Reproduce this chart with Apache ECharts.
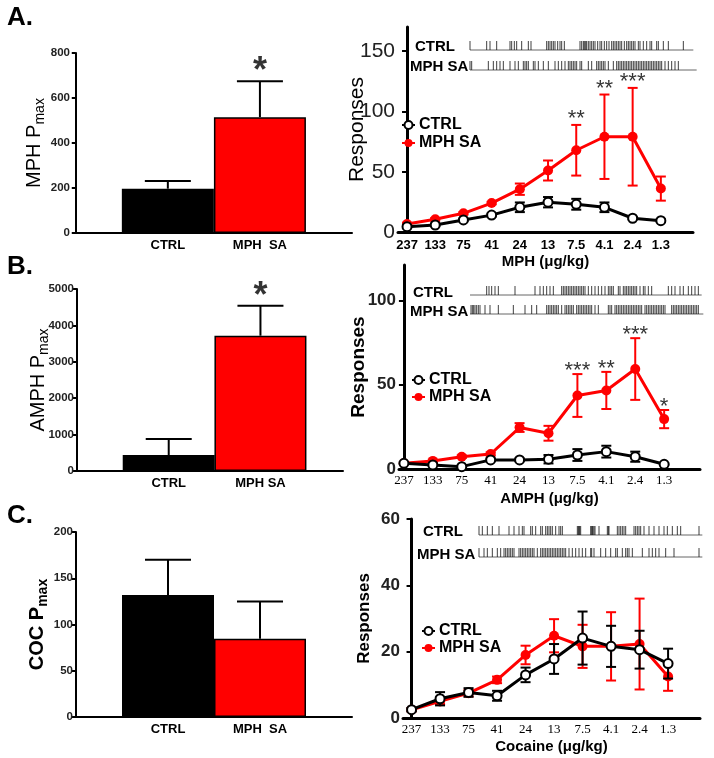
<!DOCTYPE html>
<html><head><meta charset="utf-8">
<script src="https://cdn.jsdelivr.net/npm/echarts@6/dist/echarts.min.js"></script>
<style>html,body{margin:0;padding:0;background:#fff}#c{width:714px;height:758px}</style>
</head><body><div id="c"></div><script>
// ---------------- DATA ----------------
const doses = ['237','133','75','41','24','13','7.5','4.1','2.4','1.3'];
const seriesNames = ['CTRL','MPH SA'];

// Bar panels (Pmax): [CTRL, MPH SA]
const barCatsA = ['CTRL','MPH  SA'];
const pmaxA = [197, 515];
const pmaxSemA = [34, 160];
const pmaxSigA = ['', '*'];

const barCatsB = ['CTRL','MPH SA'];
const pmaxB = [440, 3717];
const pmaxSemB = [440, 823];
const pmaxSigB = ['', '*'];

const barCatsC = ['CTRL','MPH  SA'];
const pmaxC = [132, 84.5];
const pmaxSemC = [38, 40.5];
const pmaxSigC = ['', ''];

// Dose-response panels
const mphCtrl    = [4.4, 5.8, 10, 14, 20.5, 24.7, 23, 20.5, 11.4, 9.4];
const mphCtrlSem = [0.8, 1, 1, 1.2, 4, 4.3, 4.5, 4, 1, 1];
const mphSa      = [6.7, 10.5, 15.5, 24, 35.5, 51, 67.8, 79, 79, 36];
const mphSaSem   = [1, 1, 1, 1, 4.7, 8.3, 21, 35, 40.5, 10];
const mphSigIdx  = [6, 7, 8];
const mphSigTxt  = ['**', '**', '***'];

const amphCtrl    = [3.4, 2.4, 1.4, 5.4, 5.4, 5.8, 8.3, 10.3, 7.3, 2.8];
const amphCtrlSem = [0.5, 0.5, 0.5, 0.8, 0.8, 2.5, 3.5, 3.5, 3, 0.5];
const amphSa      = [3.4, 4.8, 7.3, 8.9, 24.6, 21.2, 43.6, 46.6, 59.3, 29.6];
const amphSaSem   = [0.5, 0.8, 0.8, 1, 2.6, 4.4, 12.7, 11, 18.3, 5.4];
const amphSigIdx  = [6, 7, 8, 9];
const amphSigTxt  = ['***', '**', '***', '*'];

const cocCtrl    = [2.5, 5.8, 7.7, 6.7, 13, 17.8, 24.1, 21.6, 20.6, 16.4];
const cocCtrlSem = [0.5, 2, 1.3, 1.5, 2.2, 4.5, 8, 6.2, 5.7, 4.5];
const cocSa      = [2.5, 5, 7.5, 11.5, 19, 24.8, 21.6, 21.6, 22.3, 12.5];
const cocSaSem   = [0.5, 0.8, 1, 1, 2.8, 5, 6.5, 10.3, 13.7, 4.3];
const cocSigIdx  = [];
const cocSigTxt  = [];

// Event rasters (response times, arbitrary session units)
const rasterMphCtrl = [0,50,60,80,120,125,133,140,155,175,183,230,235,240,245,250,255,263,270,275,283,330,335,340,343,347,350,355,360,365,370,375,383,390,395,403,410,417,425,430,435,440,445,450,455,463,470,475,480,485,490,495,505,510,520,530,540,545,560,565,580,595,640];
const rasterMphSa = [0,5,55,70,80,90,100,120,135,145,160,165,170,175,190,195,205,220,235,255,265,275,285,295,300,305,310,315,320,330,335,355,365,380,385,390,395,400,405,415,430,440,445,450,455,460,465,470,475,480,485,490,495,500,505,510,515,520,525,530,535,540,545,550,555,560,565,570,575,585,595,605,615,625];
const rasterAmphCtrl = [50,57,65,75,85,135,195,210,220,230,240,250,275,280,285,290,295,300,305,310,315,320,325,330,335,340,345,355,365,375,385,395,405,415,420,425,430,445,450,460,465,470,475,480,485,490,495,500,510,520,525,535,545,595,605,615,630,640,655,665,675,685];
const rasterAmphSa = [3,7,11,15,20,25,30,45,60,85,130,165,185,200,230,235,240,245,250,255,260,265,275,285,290,295,300,305,310,320,325,330,335,340,345,350,355,360,365,375,385,415,420,425,435,440,445,450,455,460,465,470,475,480,485,490,495,500,505,510,515,525,530,535,540,545,550,555,560,565,570,575,580,585,605,610,615,620,625,630,635,640,645,650,655,660,665,670,675,680,685];
const rasterCocCtrl = [0,10,25,40,60,90,105,120,130,135,155,160,170,185,190,200,205,210,215,220,230,240,245,250,295,298,300,302,305,335,338,340,342,345,348,360,385,388,390,415,420,425,430,435,440,465,470,475,480,485,495,510,525,540,555,565,580,595,605,660];
const rasterCocSa = [0,15,25,40,55,65,75,80,85,90,95,100,105,120,125,130,135,140,145,150,155,160,165,175,185,190,195,200,205,210,215,220,225,230,235,240,245,250,255,260,270,280,290,300,310,320,335,338,345,365,380,395,410,415,430,440,445,450,460,490,510,520,530,540,560,585,660];
const rasterLabels = ['CTRL', 'MPH SA'];
const panelLetters = ['A.', 'B.', 'C.'];

// ---------------- BUILD ----------------
const FONT = '"Liberation Sans", Arial, sans-serif';
const SERIF = '"Liberation Serif", "Times New Roman", serif';
const RED = '#ff0000';
const grids = [], xAxes = [], yAxes = [], series = [], graphics = [], legends = [];

function barPanel(idx, L, cats, vals, sems, sigs) {
  grids[idx] = {left: L.left, top: L.top, width: L.width, height: L.height, outerBoundsMode: 'none'};
  xAxes[idx] = {
    gridIndex: idx, type: 'value', min: L.xmin, max: L.xmax,
    axisLine: {show: true, onZero: false, lineStyle: {color: '#000', width: 2}},
    axisTick: {show: false}, splitLine: {show: false},
    axisLabel: {customValues: [1, 2], formatter: v => cats[Math.round(v) - 1] || '',
      color: '#000', fontFamily: FONT, fontWeight: 'bold', fontSize: 13, margin: 6}
  };
  yAxes[idx] = {
    gridIndex: idx, type: 'value', min: 0, max: L.ymax, interval: L.yint,
    axisLine: {show: true, lineStyle: {color: '#000', width: 2}},
    axisTick: {show: true, length: 4, lineStyle: {color: '#000', width: 2}},
    splitLine: {show: false},
    axisLabel: {formatter: v => String(v), color: '#222', fontFamily: FONT, fontWeight: 'bold', fontSize: 11.5, margin: 3},
    name: '{m|' + L.yname + '}{s|max}', nameLocation: 'middle', nameGap: L.nameGap, nameRotate: 90,
    nameMoveOverlap: false,
    nameTextStyle: {rich: {
      m: {fontFamily: FONT, fontSize: 20, fontWeight: L.nameWeight, color: '#000', lineHeight: 26, verticalAlign: 'middle'},
      s: {fontFamily: FONT, fontSize: 14, fontWeight: L.nameWeight, color: '#000', lineHeight: 26, verticalAlign: 'bottom'}
    }}
  };
  series.push({
    type: 'bar', xAxisIndex: idx, yAxisIndex: idx, barWidth: L.barW, z: 2, silent: true,
    data: vals.map((v, i) => ({value: [i + 1, v], itemStyle: {color: i ? RED : '#000'}})),
    itemStyle: {borderColor: '#000', borderWidth: 1.5}
  });
  series.push({
    type: 'custom', xAxisIndex: idx, yAxisIndex: idx, z: 3, silent: true,
    data: vals.map((v, i) => [i + 1, v, sems[i]]),
    encode: {x: 0, y: 1},
    renderItem: (p, api) => {
      const x = api.value(0), v = api.value(1), e = api.value(2);
      const a = api.coord([x, v]), b = api.coord([x, v + e]);
      const hw = 23;
      return {type: 'group', children: [
        {type: 'line', shape: {x1: a[0], y1: a[1], x2: b[0], y2: b[1]}, style: {stroke: '#000', lineWidth: 2}},
        {type: 'line', shape: {x1: b[0] - hw, y1: b[1], x2: b[0] + hw, y2: b[1]}, style: {stroke: '#000', lineWidth: 2}}
      ]};
    }
  });
  series.push({
    type: 'scatter', xAxisIndex: idx, yAxisIndex: idx, symbolSize: 0, z: 4, silent: true,
    data: vals.map((v, i) => ({value: [i + 1, v + sems[i]], label: {formatter: sigs[i]}})),
    label: {show: true, position: 'top', distance: L.sigDist, color: '#000', fontFamily: FONT, fontWeight: 'bold', fontSize: 36}
  });
}

function errRender(color, cap) {
  return (p, api) => {
    const x = api.value(0), v = api.value(1), e = api.value(2);
    const lo = api.coord([x, v - e]), hi = api.coord([x, v + e]);
    return {type: 'group', children: [
      {type: 'line', shape: {x1: lo[0], y1: lo[1], x2: hi[0], y2: hi[1]}, style: {stroke: color, lineWidth: 2}},
      {type: 'line', shape: {x1: hi[0] - cap, y1: hi[1], x2: hi[0] + cap, y2: hi[1]}, style: {stroke: color, lineWidth: 2}},
      {type: 'line', shape: {x1: lo[0] - cap, y1: lo[1], x2: lo[0] + cap, y2: lo[1]}, style: {stroke: color, lineWidth: 2}}
    ]};
  };
}

function linePanel(idx, L, ctrl, ctrlSem, sa, saSem, sigIdx, sigTxt) {
  grids[idx] = {left: L.left, top: L.top, width: L.width, height: L.height, outerBoundsMode: 'none'};
  const idxs = doses.map((d, i) => i);
  xAxes[idx] = {
    gridIndex: idx, type: 'value', min: L.xmin, max: L.xmax,
    axisLine: {show: true, onZero: false, lineStyle: {color: '#000', width: 3}},
    axisTick: {show: false}, splitLine: {show: false},
    axisLabel: {customValues: idxs, formatter: v => doses[Math.round(v)],
      color: '#000', fontFamily: L.xFont, fontWeight: L.xWeight, fontSize: L.xSize, margin: L.xMargin},
    name: L.xname, nameLocation: 'middle', nameGap: L.xnameGap, nameMoveOverlap: false,
    nameTextStyle: {fontFamily: FONT, fontWeight: 'bold', fontSize: 15, color: '#000', verticalAlign: 'top'}
  };
  yAxes[idx] = {
    gridIndex: idx, type: 'value', min: 0, max: L.ymax,
    axisLine: {show: true, lineStyle: {color: '#000', width: 3}},
    axisTick: {show: true, customValues: L.yticks, length: 5, lineStyle: {color: '#000', width: 2}},
    splitLine: {show: false},
    axisLabel: {customValues: L.yticks, color: '#222', fontFamily: FONT, fontWeight: L.yWeight, fontSize: L.ySize, margin: 3},
    name: 'Responses', nameLocation: 'middle', nameGap: L.ynameGap, nameRotate: 90, nameMoveOverlap: false,
    nameTextStyle: {fontFamily: FONT, fontWeight: L.yWeight, fontSize: L.ynameSize, color: '#000'}
  };
  series.push({type: 'custom', name: 'saErr' + idx, xAxisIndex: idx, yAxisIndex: idx, z: 2, silent: true,
    data: sa.map((v, i) => [i, v, saSem[i]]), encode: {x: 0, y: 1}, renderItem: errRender(RED, 5)});
  series.push({type: 'line', name: seriesNames[1], xAxisIndex: idx, yAxisIndex: idx, z: 3, silent: true,
    data: sa.map((v, i) => [i, v]), symbol: 'circle', symbolSize: L.sym,
    lineStyle: {color: RED, width: L.lw}, itemStyle: {color: RED}});
  series.push({type: 'custom', name: 'ctrlErr' + idx, xAxisIndex: idx, yAxisIndex: idx, z: 4, silent: true,
    data: ctrl.map((v, i) => [i, v, ctrlSem[i]]), encode: {x: 0, y: 1}, renderItem: errRender('#000', 5)});
  series.push({type: 'line', name: seriesNames[0], xAxisIndex: idx, yAxisIndex: idx, z: 5, silent: true,
    data: ctrl.map((v, i) => [i, v]), symbol: 'circle', symbolSize: L.sym - 1,
    lineStyle: {color: '#000', width: L.lw}, itemStyle: {color: '#fff', borderColor: '#000', borderWidth: 2}});
  series.push({type: 'scatter', xAxisIndex: idx, yAxisIndex: idx, symbolSize: 0, z: 6, silent: true,
    data: sigIdx.map((k, j) => ({value: [k, sa[k] + saSem[k]], label: {formatter: sigTxt[j]}})),
    label: {show: true, position: 'top', distance: L.sigDist, color: '#000', fontFamily: FONT, fontSize: 22}});
  legends.push({
    data: seriesNames.slice(), orient: 'vertical', left: L.legLeft, top: L.legTop, padding: 0,
    itemWidth: 13, itemHeight: 10, itemGap: L.legGap, selectedMode: false,
    textStyle: {fontFamily: FONT, fontWeight: 'bold', fontSize: 16, color: '#000', padding: [0, 0, 0, -1]}
  });
}

function rasterPanel(idx, L, ctrlT, saT) {
  grids[idx] = {left: L.left, top: L.top, width: 240, height: L.h, outerBoundsMode: 'none'};
  xAxes[idx] = {gridIndex: idx, type: 'value', min: 0, max: 720, show: false};
  yAxes[idx] = {gridIndex: idx, type: 'value', min: 0, max: 1, show: false};
  const rows = [0.75, 0.25];
  [ctrlT, saT].forEach((times, r) => {
    series.push({type: 'line', xAxisIndex: idx, yAxisIndex: idx, silent: true, symbol: 'none', z: 2,
      data: [[0, rows[r]], [L.ends[r], rows[r]]], lineStyle: {color: '#666', width: 1}});
    series.push({type: 'scatter', xAxisIndex: idx, yAxisIndex: idx, silent: true, z: 3,
      data: times.map(t => [t, rows[r]]), symbol: 'rect', symbolSize: [1, L.tick], symbolOffset: [0, -L.tick / 2],
      itemStyle: {color: '#111'}});
    graphics.push({type: 'text', x: L.labX[r], y: L.labY[r],
      style: {text: rasterLabels[r], font: 'bold 15px ' + FONT, fill: '#000', align: 'left', verticalAlign: 'middle'}});
  });
}

// Panel A
barPanel(0, {left: 73, top: 53, width: 279, height: 180, xmin: -0.03, xmax: 3.0, ymax: 800, yint: 200, barW: 92,
  yname: 'MPH P', nameGap: 26, nameWeight: 'normal', sigDist: -9}, barCatsA, pmaxA, pmaxSemA, pmaxSigA);
linePanel(1, {left: 398, top: 27, width: 295, height: 205, xmin: -0.32, xmax: 10.14, ymax: 170, yticks: [0, 50, 100, 150],
  xFont: FONT, xWeight: 'bold', xSize: 13, xMargin: 7, xname: 'MPH (μg/kg)', xnameGap: 22,
  yWeight: 'normal', ySize: 21, ynameSize: 21, ynameGap: 30, sym: 10, lw: 3, sigDist: -5,
  legLeft: 401, legTop: 117, legGap: 2}, mphCtrl, mphCtrlSem, mphSa, mphSaSem, mphSigIdx, mphSigTxt);
rasterPanel(2, {left: 470, top: 40, h: 40, ends: [670, 680], tick: 9, labX: [415, 410], labY: [47, 67]},
  rasterMphCtrl, rasterMphSa);

// Panel B
barPanel(3, {left: 77, top: 289, width: 266, height: 182, xmin: 0, xmax: 2.9, ymax: 5000, yint: 1000, barW: 92,
  yname: 'AMPH P', nameGap: 26, nameWeight: 'normal', sigDist: -9}, barCatsB, pmaxB, pmaxSemB, pmaxSigB);
linePanel(4, {left: 399, top: 265, width: 301, height: 204, xmin: -0.17, xmax: 10.24, ymax: 121, yticks: [0, 50, 100],
  xFont: SERIF, xWeight: 'normal', xSize: 13, xMargin: 5, xname: 'AMPH (μg/kg)', xnameGap: 22,
  yWeight: 'bold', ySize: 17, ynameSize: 19, ynameGap: 31, sym: 10, lw: 3, sigDist: -8,
  legLeft: 411, legTop: 372, legGap: 1}, amphCtrl, amphCtrlSem, amphSa, amphSaSem, amphSigIdx, amphSigTxt);
rasterPanel(5, {left: 470, top: 285.5, h: 38, ends: [695, 700], tick: 9, labX: [413, 410], labY: [293, 312]},
  rasterAmphCtrl, rasterAmphSa);

// Panel C
barPanel(6, {left: 76, top: 532, width: 276, height: 185, xmin: 0, xmax: 3.0, ymax: 200, yint: 50, barW: 92,
  yname: 'COC P', nameGap: 26, nameWeight: 'bold', sigDist: -9}, barCatsC, pmaxC, pmaxSemC, pmaxSigC);
linePanel(7, {left: 403, top: 519, width: 297, height: 199, xmin: -0.30, xmax: 10.12, ymax: 60, yticks: [0, 20, 40, 60],
  xFont: SERIF, xWeight: 'normal', xSize: 13, xMargin: 5, xname: 'Cocaine (μg/kg)', xnameGap: 21,
  yWeight: 'bold', ySize: 17, ynameSize: 17, ynameGap: 30, sym: 10, lw: 3, sigDist: -8,
  legLeft: 421, legTop: 623, legGap: 1}, cocCtrl, cocCtrlSem, cocSa, cocSaSem, cocSigIdx, cocSigTxt);
rasterPanel(8, {left: 479, top: 524, h: 44, ends: [670, 670], tick: 9, labX: [423, 417], labY: [532, 555]},
  rasterCocCtrl, rasterCocSa);

[17.5, 266.5, 516].forEach((y, i) => graphics.push({type: 'text', x: 7, y: y,
  style: {text: panelLetters[i], font: 'bold 26px ' + FONT, fill: '#000', align: 'left', verticalAlign: 'middle'}}));

const chart = echarts.init(document.getElementById('c'), null, {renderer: 'canvas'});
chart.setOption({
  animation: false, backgroundColor: '#fff',
  grid: grids, xAxis: xAxes, yAxis: yAxes, series: series, legend: legends, graphic: graphics
});
</script></body></html>
